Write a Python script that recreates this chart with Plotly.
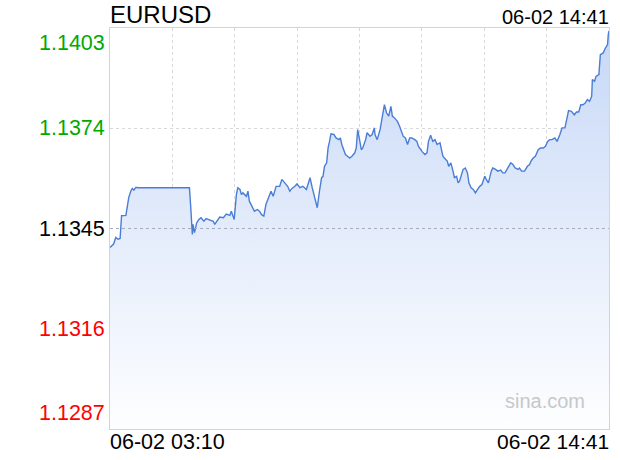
import pandas as pd
import plotly.graph_objects as go

symbol = "EURUSD"
trade_date = "2025-06-02"
date_label = "06-02"
prev_close = 1.1345
y_ticks = [1.1287, 1.1316, 1.1345, 1.1374, 1.1403]
y_tick_labels = ["1.1287", "1.1316", "1.1345", "1.1374", "1.1403"]
start_time = "03:10"
end_time = "14:41"

times = [
    "03:10", "03:15", "03:18", "03:21", "03:24", "03:26", "03:32", "03:34", "03:36", "03:39",
    "03:41", "03:43", "03:46", "03:48", "05:00", "05:02", "05:04", "05:05", "05:07", "05:10",
    "05:13", "05:16", "05:20", "05:23", "05:28", "05:33", "05:35", "05:39", "05:42", "05:47",
    "05:51", "05:56", "05:58", "06:02", "06:05", "06:07", "06:10", "06:12", "06:14", "06:19",
    "06:21", "06:23", "06:27", "06:30", "06:34", "06:37", "06:40", "06:43", "06:46", "06:50",
    "06:53", "06:56", "07:00", "07:05", "07:08", "07:12", "07:16", "07:19", "07:22", "07:26",
    "07:29", "07:33", "07:37", "07:42", "07:47", "07:50", "07:53", "07:57", "08:00", "08:03",
    "08:05", "08:07", "08:10", "08:12", "08:14", "08:16", "08:20", "08:23", "08:27", "08:29",
    "08:31", "08:34", "08:36", "08:39", "08:42", "08:45", "08:49", "08:51", "08:53", "08:56",
    "08:58", "09:00", "09:04", "09:06", "09:10", "09:13", "09:16", "09:17", "09:20", "09:24",
    "09:26", "09:28", "09:30", "09:33", "09:36", "09:39", "09:41", "09:44", "09:48", "09:51",
    "09:53", "09:56", "09:59", "10:02", "10:05", "10:08", "10:12", "10:15", "10:17", "10:20",
    "10:22", "10:26", "10:29", "10:31", "10:34", "10:37", "10:40", "10:43", "10:47", "10:49",
    "10:51", "10:53", "10:57", "10:59", "11:02", "11:05", "11:07", "11:10", "11:12", "11:14",
    "11:16", "11:19", "11:22", "11:25", "11:27", "11:30", "11:33", "11:36", "11:39", "11:42",
    "11:45", "11:49", "11:51", "11:54", "11:58", "12:00", "12:04", "12:07", "12:11", "12:14",
    "12:17", "12:21", "12:25", "12:28", "12:31", "12:35", "12:37", "12:40", "12:44", "12:48",
    "12:51", "12:53", "12:56", "12:59", "13:03", "13:06", "13:10", "13:13", "13:16", "13:19",
    "13:22", "13:26", "13:29", "13:33", "13:36", "13:40", "13:42", "13:45", "13:49", "13:53",
    "13:56", "13:59", "14:02", "14:05", "14:08", "14:11", "14:14", "14:17", "14:18", "14:21",
    "14:23", "14:27", "14:29", "14:33", "14:36", "14:39", "14:40", "14:41",
]

prices = [
    1.13395, 1.13405, 1.13424, 1.13419, 1.13421, 1.13487, 1.13488, 1.13511, 1.13540, 1.13559,
    1.13566, 1.13561, 1.13569, 1.13568, 1.13568, 1.13505, 1.13433, 1.13462, 1.13438, 1.13466,
    1.13476, 1.13481, 1.13471, 1.13479, 1.13476, 1.13471, 1.13462, 1.13476, 1.13483, 1.13481,
    1.13492, 1.13488, 1.13500, 1.13476, 1.13548, 1.13568, 1.13563, 1.13548, 1.13553, 1.13543,
    1.13558, 1.13529, 1.13514, 1.13500, 1.13505, 1.13500, 1.13490, 1.13486, 1.13520, 1.13539,
    1.13558, 1.13543, 1.13572, 1.13572, 1.13592, 1.13582, 1.13572, 1.13558, 1.13566, 1.13572,
    1.13579, 1.13568, 1.13572, 1.13563, 1.13597, 1.13568, 1.13543, 1.13510, 1.13557, 1.13597,
    1.13601, 1.13630, 1.13640, 1.13683, 1.13702, 1.13724, 1.13722, 1.13712, 1.13707, 1.13712,
    1.13693, 1.13673, 1.13664, 1.13659, 1.13654, 1.13659, 1.13669, 1.13683, 1.13736, 1.13702,
    1.13678, 1.13683, 1.13707, 1.13727, 1.13717, 1.13722, 1.13741, 1.13722, 1.13707, 1.13736,
    1.13765, 1.13784, 1.13808, 1.13784, 1.13775, 1.13803, 1.13775, 1.13770, 1.13760, 1.13746,
    1.13736, 1.13717, 1.13712, 1.13693, 1.13712, 1.13712, 1.13707, 1.13702, 1.13688, 1.13678,
    1.13673, 1.13664, 1.13669, 1.13702, 1.13720, 1.13702, 1.13707, 1.13693, 1.13698, 1.13678,
    1.13659, 1.13654, 1.13645, 1.13630, 1.13640, 1.13616, 1.13597, 1.13601, 1.13582, 1.13587,
    1.13601, 1.13621, 1.13625, 1.13611, 1.13582, 1.13568, 1.13563, 1.13553, 1.13563, 1.13572,
    1.13577, 1.13601, 1.13592, 1.13582, 1.13616, 1.13625, 1.13621, 1.13616, 1.13619, 1.13611,
    1.13611, 1.13625, 1.13640, 1.13635, 1.13625, 1.13621, 1.13625, 1.13616, 1.13616, 1.13630,
    1.13635, 1.13645, 1.13654, 1.13659, 1.13678, 1.13683, 1.13683, 1.13688, 1.13702, 1.13707,
    1.13707, 1.13712, 1.13702, 1.13722, 1.13741, 1.13741, 1.13760, 1.13791, 1.13789, 1.13779,
    1.13787, 1.13787, 1.13808, 1.13808, 1.13813, 1.13823, 1.13818, 1.13832, 1.13881, 1.13876,
    1.13890, 1.13895, 1.13953, 1.13958, 1.13972, 1.13982, 1.14011, 1.14022,
]

x = pd.to_datetime([f"{trade_date} {t}" for t in times])
x0 = pd.Timestamp(f"{trade_date} {start_time}")
x1 = pd.Timestamp(f"{trade_date} {end_time}")
n_div = 8
grid_x = [x0 + (x1 - x0) * k / n_div for k in range(1, n_div)]

FONT = "Liberation Sans, Arial, sans-serif"
LINE = "#4a7dd6"

fig = go.Figure()
fig.add_trace(go.Scatter(
    x=x, y=prices, mode="lines",
    line=dict(color=LINE, width=1.4),
    fill="tozeroy",
    fillgradient=dict(
        type="vertical",
        start=y_ticks[0], stop=y_ticks[-1],
        colorscale=[[0, "rgb(253,254,255)"], [0.5, "rgb(228,236,251)"], [1, "rgb(198,216,247)"]],
    ),
    hoverinfo="skip",
))

fig.add_hline(y=prev_close, line=dict(color="#a4acbc", width=1, dash="3px,3px"))

label_colors = ["#ff0000", "#ff0000", "#000000", "#00aa00", "#00aa00"]
anchors = ["bottom", "middle", "middle", "middle", "top"]
for val, txt, col, anc in zip(y_ticks, y_tick_labels, label_colors, anchors):
    fig.add_annotation(x=0, xref="paper", y=val, yref="y", text=txt, showarrow=False,
                       xanchor="right", yanchor=anc, xshift=-3,
                       yshift=(2 if anc == "bottom" else (-1 if anc == "top" else 0)),
                       font=dict(family=FONT, size=21.5, color=col))

fig.add_annotation(x=0, xref="paper", y=1, yref="paper", text=symbol, showarrow=False,
                   xanchor="left", yanchor="bottom", xshift=-2, yshift=-2,
                   font=dict(family=FONT, size=24, color="#000"))
fig.add_annotation(x=1, xref="paper", y=1, yref="paper", text=f"{date_label} {end_time}",
                   showarrow=False, xanchor="right", yanchor="bottom", xshift=2, yshift=-2,
                   font=dict(family=FONT, size=20, color="#000"))
fig.add_annotation(x=0, xref="paper", y=0, yref="paper", text=f"{date_label} {start_time}",
                   showarrow=False, xanchor="left", yanchor="top", xshift=-2, yshift=1,
                   font=dict(family=FONT, size=21.5, color="#000"))
fig.add_annotation(x=1, xref="paper", y=0, yref="paper", text=f"{date_label} {end_time}",
                   showarrow=False, xanchor="right", yanchor="top", xshift=2, yshift=1,
                   font=dict(family=FONT, size=21, color="#000"))
fig.add_annotation(x=(587 - 110) / 499, xref="paper", y=0.07, yref="paper", text="sina.com",
                   showarrow=False, xanchor="right", yanchor="middle",
                   font=dict(family=FONT, size=20, color="#c8c8c8"))

fig.update_layout(
    width=620, height=460,
    margin=dict(l=110, r=11, t=28, b=31),
    paper_bgcolor="white", plot_bgcolor="white",
    showlegend=False,
    xaxis=dict(range=[x0, x1], tickvals=grid_x, showticklabels=False, ticks="",
               showgrid=True, gridcolor="#d8d8d8", griddash="dot", gridwidth=1,
               showline=True, mirror=True, linecolor="#d4d4d4", linewidth=1, zeroline=False),
    yaxis=dict(range=[y_ticks[0], y_ticks[-1]], tickvals=[y_ticks[1], y_ticks[3]],
               showticklabels=False, ticks="",
               showgrid=True, gridcolor="#d8d8d8", griddash="dot", gridwidth=1,
               showline=True, mirror=True, linecolor="#d4d4d4", linewidth=1, zeroline=False),
)

fig.write_html("out.html", config={"displayModeBar": False},
               post_script="document.body.style.margin='0px';document.body.style.padding='0px';")
